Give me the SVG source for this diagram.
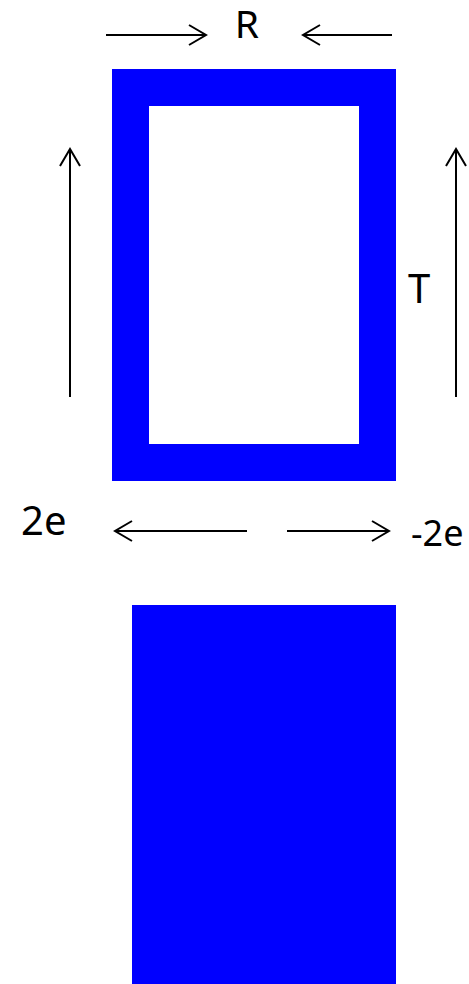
<svg xmlns="http://www.w3.org/2000/svg" width="469" height="984" viewBox="0 0 469 984">
<style>
.lbl{font-family:"Noto Sans","Open Sans",sans-serif;font-size:40px;fill:#000}
.arr{stroke:#000;stroke-width:2;fill:none;marker-end:url(#head)}
.blue{fill:#0000ff}
</style>
<defs>
<marker id="head" markerUnits="userSpaceOnUse" markerWidth="24" markerHeight="24" viewBox="-20 -12 24 24" refX="0" refY="0" orient="auto">
<path d="M-17,-10 L0,0 L-17,10" fill="none" stroke="#000" stroke-width="2"/>
</marker>
</defs>
<rect width="469" height="984" fill="#fff"/>
<g id="frame">
<path class="blue" fill-rule="evenodd" d="M112,69 H396 V481 H112 Z M149,106 V444 H359 V106 Z"/>
</g>
<g id="block">
<rect class="blue" x="132" y="605" width="264" height="379"/>
</g>
<g id="connectors">
<line class="arr" x1="106" y1="35" x2="206" y2="35"/>
<line class="arr" x1="392" y1="35" x2="303" y2="35"/>
<line class="arr" x1="70" y1="397" x2="70" y2="149"/>
<line class="arr" x1="456" y1="397" x2="456" y2="149"/>
<line class="arr" x1="247" y1="531" x2="115" y2="531"/>
<line class="arr" x1="287" y1="531" x2="389" y2="531"/>
</g>
<g id="labels">
<text class="lbl" x="247" y="38" text-anchor="middle" style="font-size:39px">R</text>
<text class="lbl" x="419" y="303" text-anchor="middle">T</text>
<text class="lbl" x="21" y="535">2e</text>
<text class="lbl" x="411" y="546" style="font-size:36px">-2e</text>
</g>
</svg>
